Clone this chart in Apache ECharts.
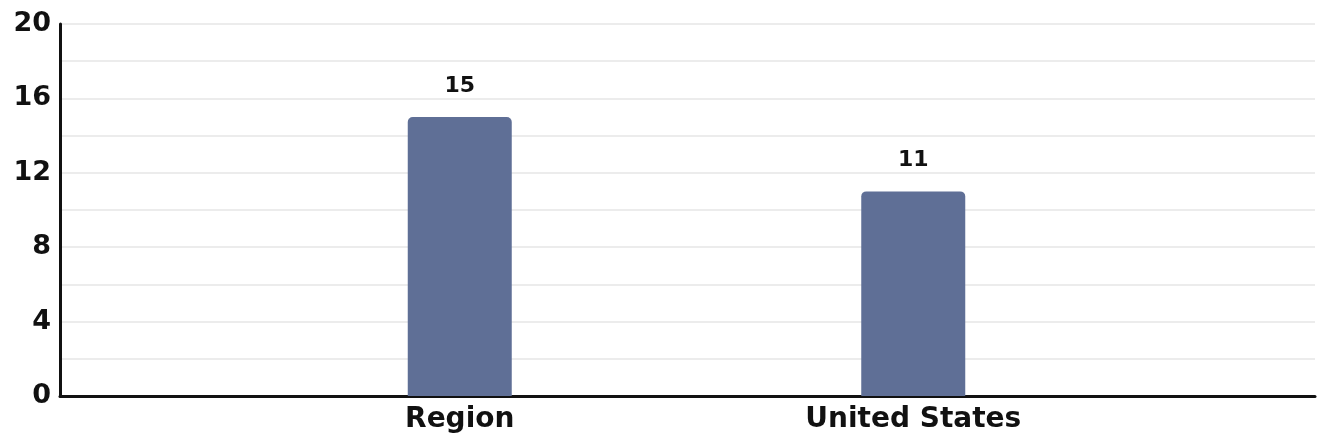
<!DOCTYPE html>
<html>
<head>
<meta charset="utf-8">
<script src="https://cdn.jsdelivr.net/npm/echarts@6/dist/echarts.min.js"></script>
<style>
  html, body { margin: 0; padding: 0; background: #fff; }
  #chart { width: 1321px; height: 442px; }
</style>
</head>
<body>
<div id="chart"></div>
<script>
const categories = ['Region', 'United States']
const values = [15, 11]
const yTicks = [0, 4, 8, 12, 16, 20]

const chart = echarts.init(document.getElementById('chart'))
const font = '"DejaVu Sans", sans-serif'

const option = {
  backgroundColor: '#fff',
  animation: false,
  grid: [
    { left: 60, right: 6, top: 24, bottom: 46 },
    { left: 233, right: 181, top: 24, bottom: 46 }
  ],
  xAxis: [
    {
      gridIndex: 0, type: 'category', data: [''],
      axisLine: { show: true, lineStyle: { color: '#111', width: 3 } },
      axisTick: { show: false }, axisLabel: { show: false }
    },
    {
      gridIndex: 1, type: 'category', data: categories,
      axisLine: { show: false }, axisTick: { show: false },
      axisLabel: { fontFamily: font, fontSize: 28, fontWeight: 'bold', color: '#111', margin: 10 }
    }
  ],
  yAxis: [
    {
      gridIndex: 0, type: 'value', min: yTicks[0], max: yTicks[yTicks.length - 1], interval: 4,
      axisLine: { show: true, lineStyle: { color: '#111', width: 3 } },
      axisTick: { show: false },
      axisLabel: { fontFamily: font, fontSize: 27, fontWeight: 'bold', color: '#111', margin: 9 },
      splitLine: { lineStyle: { color: '#e6e6e6', width: 1.5 } },
      minorTick: { show: false, splitNumber: 2 },
      minorSplitLine: { show: true, lineStyle: { color: '#e6e6e6', width: 1.5 } }
    },
    {
      gridIndex: 1, type: 'value', min: 0, max: 20, show: false,
      splitLine: { show: false }
    }
  ],
  series: [{
    type: 'bar',
    xAxisIndex: 1, yAxisIndex: 1,
    data: values,
    barWidth: 104,
    itemStyle: { color: '#5f6f96', borderRadius: [5, 5, 0, 0] },
    label: {
      show: true, position: 'top', distance: 20,
      fontFamily: font, fontSize: 22, fontWeight: 'bold', color: '#111'
    }
  }]
}
chart.setOption(option)
</script>
</body>
</html>
